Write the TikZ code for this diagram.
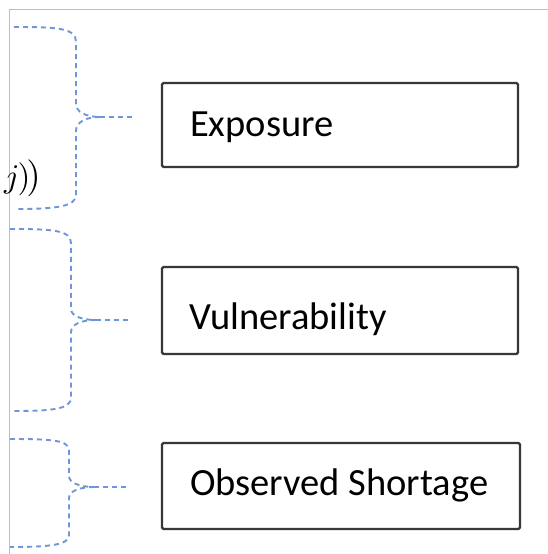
\documentclass[tikz,border=0pt]{standalone}
\usepackage{fontspec}
\setmainfont{Carlito}
\definecolor{bracecol}{RGB}{112,150,218}
\definecolor{boxcol}{RGB}{55,55,55}
\definecolor{framecol}{RGB}{190,190,190}
\begin{document}
\begin{tikzpicture}[x=1pt,y=-1pt,
  labelbox/.style={draw=boxcol,line width=2.4pt,rounded corners=1.5pt},
  labeltext/.style={anchor=base west,inner sep=0pt,font=\fontsize{38.5}{44}\selectfont},
  bracepath/.style={draw=bracecol,line width=1.9pt,dash pattern=on 5pt off 4pt},
  framepath/.style={draw=framecol,line width=1pt}]
\useasboundingbox (0,0) rectangle (548,554);
\fill[white] (0,0) rectangle (548,554);
% frame lines
\coordinate (fc) at (9,9);
\coordinate (fr) at (548,9);
\coordinate (fb) at (9,554);
\draw[framepath] (fr) -- (fc) -- (fb);
% boxes
\draw[labelbox] (162,83) rectangle (518,167);
\node[labeltext] (t1) at (190,136) {Exposure};
\draw[labelbox] (162,267) rectangle (518,354);
\node[labeltext] (t2) at (189,329) {Vulnerability};
\draw[labelbox] (162,443) rectangle (520,529);
\node[labeltext] (t3) at (190,495) {Observed Shortage};
% formula fragment
\node[anchor=base east,inner sep=0pt] (f) at (41,187)
  {\scalebox{3.3}{$,\,j$}\kern-2pt\scalebox{3.3}{$)$}\kern-4pt\scalebox{3.7}{$)$}};
% brace 1
\coordinate (b1a) at (14,27);
\coordinate (b1b) at (17,209);
\coordinate (b1t) at (100,117);
\coordinate (b1e) at (134,117);
\draw[bracepath] (b1a) .. controls (58,27) and (76,28) .. (76,42) -- (76,104)
  .. controls (76,112) and (86,117) .. (b1t);
\draw[bracepath] (b1t) .. controls (86,117) and (76,122) .. (76,131) -- (76,195)
  .. controls (76,206) and (58,209) .. (b1b);
\draw[bracepath] (b1t) -- (b1e);
% brace 2
\coordinate (b2a) at (10,229);
\coordinate (b2b) at (14,411);
\coordinate (b2t) at (96,320);
\coordinate (b2e) at (130,320);
\draw[bracepath] (b2a) .. controls (52,229) and (71,230) .. (71,243) -- (71,309)
  .. controls (71,316) and (82,320) .. (b2t);
\draw[bracepath] (b2t) .. controls (82,320) and (71,324) .. (71,332) -- (71,398)
  .. controls (71,409) and (52,411) .. (b2b);
\draw[bracepath] (b2t) -- (b2e);
% brace 3
\coordinate (b3a) at (10,439);
\coordinate (b3b) at (10,547);
\coordinate (b3t) at (94,487);
\coordinate (b3e) at (128,487);
\draw[bracepath] (b3a) .. controls (50,439) and (69,440) .. (69,450) -- (69,476)
  .. controls (69,483) and (80,487) .. (b3t);
\draw[bracepath] (b3t) .. controls (80,487) and (69,491) .. (69,498) -- (69,535)
  .. controls (69,545) and (50,547) .. (b3b);
\draw[bracepath] (b3t) -- (b3e);
\end{tikzpicture}
\end{document}
